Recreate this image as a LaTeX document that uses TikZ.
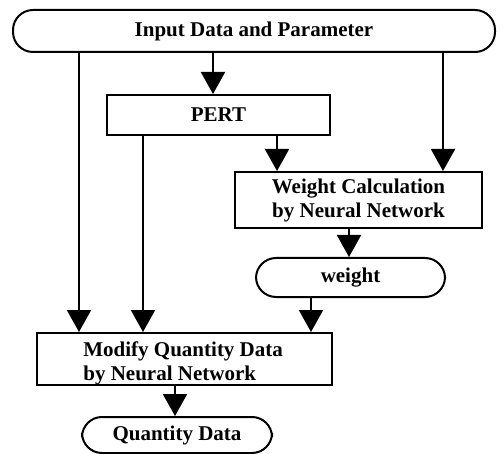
\documentclass[tikz,border=0pt]{standalone}
\usepackage{fontspec}
\setmainfont{Liberation Serif}
\usetikzlibrary{arrows.meta,positioning,calc}

\begin{document}
\begin{tikzpicture}[
  x=0.5pt, y=-0.5pt,
  every node/.style={font=\fontsize{10.5}{12}\selectfont\bfseries},
  procbox/.style={draw, line width=1pt, inner sep=0pt},
  terminal/.style={draw, line width=1pt, rounded corners=10pt, inner sep=0pt},
  flow/.style={-{Triangle[width=12pt,length=11pt]}, line width=1pt}
]
\useasboundingbox (0,0) rectangle (503,454);
% boxes and terminals
\node[terminal, minimum width=241pt, minimum height=21pt] (input) at (254,31)
  {Input Data and Parameter};
\node[procbox, minimum width=111.5pt, minimum height=20pt] (pert) at (218.5,115)
  {PERT};
\node[procbox, minimum width=123.5pt, minimum height=28pt, align=center]
  (wcalc) at (358.5,200) {Weight Calculation\\by Neural Network};
\node[terminal, minimum width=94.5pt, minimum height=19.5pt] (weight)
  at (350.5,277.5) {weight};
\node[procbox, minimum width=147.5pt, minimum height=26pt] (modify)
  at (184.5,359) {};
\node[align=left, anchor=south west, inner sep=0pt] (modifytext)
  at ($(modify.south west)+(47,-1)$)
  {Modify Quantity Data\\by Neural Network};
\node[terminal, minimum width=95pt, minimum height=18pt] (qty) at (177,435)
  {Quantity Data};
% connectors
\draw[flow] (input.south -| 213,0) -- (pert.north -| 213,0);
\draw[flow] (input.south -| 79,0) -- (modify.north -| 79,0);
\draw[flow] (input.south -| 443,0) -- (wcalc.north -| 443,0);
\draw[flow] (pert.south -| 143,0) -- (modify.north -| 143,0);
\draw[flow] (pert.south -| 277,0) -- (wcalc.north -| 277,0);
\draw[flow] (wcalc.south -| 349,0) -- (weight.north -| 349,0);
\draw[flow] (weight.south -| 311,0) -- (modify.north -| 311,0);
\draw[flow] (modify.south -| 175,0) -- (qty.north -| 175,0);
\end{tikzpicture}
\end{document}
